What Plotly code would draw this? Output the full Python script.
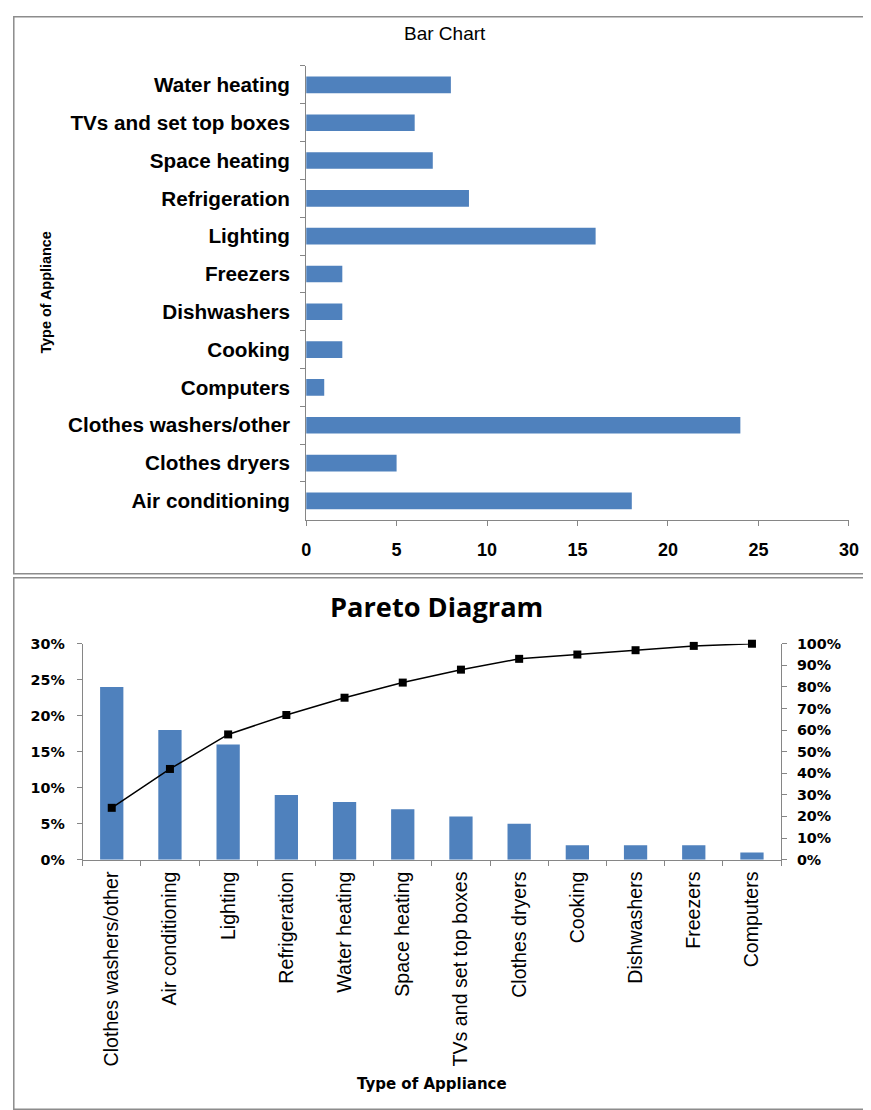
import plotly.graph_objects as go

# ---------------- data ----------------
bar_categories = ["Air conditioning", "Clothes dryers", "Clothes washers/other", "Computers",
                  "Cooking", "Dishwashers", "Freezers", "Lighting", "Refrigeration",
                  "Space heating", "TVs and set top boxes", "Water heating"]
bar_values = [18, 5, 24, 1, 2, 2, 2, 16, 9, 7, 6, 8]

pareto_categories = ["Clothes washers/other", "Air conditioning", "Lighting", "Refrigeration",
                     "Water heating", "Space heating", "TVs and set top boxes", "Clothes dryers",
                     "Cooking", "Dishwashers", "Freezers", "Computers"]
pareto_share = [0.24, 0.18, 0.16, 0.09, 0.08, 0.07, 0.06, 0.05, 0.02, 0.02, 0.02, 0.01]
pareto_cumulative = [0.24, 0.42, 0.58, 0.67, 0.75, 0.82, 0.88, 0.93, 0.95, 0.97, 0.99, 1.00]

W, H = 871, 1110
BLUE = "#4F81BD"
AX = "#868686"

# mapping from target picture pixels to figure pixels (measured placement of the page in the photo)
AXS, BXS = 0.985, 12.2
AYS, BYS = 0.986, 15.0


def fx(x):
    return (x - BXS) / AXS


def fy(y):
    return (y - BYS) / AYS


def px(x):
    return min(max(fx(x), 0.0), W) / W


def py(y):
    return 1 - min(max(fy(y), 0.0), H) / H


fig = go.Figure()

fig.add_trace(go.Bar(x=bar_values, y=bar_categories, orientation="h",
                     marker=dict(color=BLUE, line=dict(width=0)), width=0.44,
                     xaxis="x", yaxis="y", showlegend=False))
fig.add_trace(go.Bar(x=pareto_categories, y=pareto_share,
                     marker=dict(color=BLUE, line=dict(width=0)), width=0.4,
                     xaxis="x2", yaxis="y2", showlegend=False))
fig.add_trace(go.Scatter(x=pareto_categories, y=pareto_cumulative, mode="lines+markers",
                         line=dict(color="black", width=1.5),
                         marker=dict(symbol="square", size=8, color="black"),
                         cliponaxis=False,
                         xaxis="x2", yaxis="y3", showlegend=False))

fig.update_layout(
    width=W, height=H, autosize=False,
    margin=dict(l=0, r=0, t=0, b=0),
    paper_bgcolor="white", plot_bgcolor="white",
    xaxis=dict(domain=[px(306), px(850)], anchor="y", range=[0, 30], dtick=5,
               showgrid=False, zeroline=False, showline=True, linecolor=AX, linewidth=1,
               ticks="outside", ticklen=5, tickcolor=AX, ticklabelstandoff=9,
               tickfont=dict(family="Liberation Sans, Arial", size=18, color="black", weight="bold")),
    yaxis=dict(domain=[py(519), py(65)], anchor="x", type="category",
               range=[-0.5, 11.5],
               showgrid=False, zeroline=False, showline=True, linecolor=AX, linewidth=1,
               ticks="outside", ticklen=5, tickcolor=AX, tickson="boundaries",
               ticklabelstandoff=11,
               tickfont=dict(family="Liberation Sans, Arial", size=20.7, color="black", weight="bold")),
    xaxis2=dict(domain=[px(82), px(782)], anchor="y2", type="category",
                range=[-0.5, 11.5],
                showgrid=False, zeroline=False, showline=True, linecolor=AX, linewidth=1,
                ticks="outside", ticklen=5, tickcolor=AX, tickson="boundaries",
                tickangle=-90, ticklabelstandoff=3,
                tickfont=dict(family="Liberation Sans, Arial", size=19.6, color="black")),
    yaxis2=dict(domain=[py(859), py(643)], anchor="x2", range=[0, 0.3], dtick=0.05,
                tickformat=".0%",
                showgrid=False, zeroline=False, showline=True, linecolor=AX, linewidth=1,
                ticks="outside", ticklen=5, tickcolor=AX, ticklabelstandoff=9,
                tickfont=dict(family="DejaVu Sans, Verdana", size=14.3, color="black", weight="bold")),
    yaxis3=dict(domain=[py(859), py(643)], anchor="x2", overlaying="y2", side="right",
                range=[0, 1], dtick=0.1, tickformat=".0%",
                showgrid=False, zeroline=False, showline=True, linecolor=AX, linewidth=1,
                ticks="outside", ticklen=5, tickcolor=AX, ticklabelstandoff=7,
                tickfont=dict(family="DejaVu Sans, Verdana", size=14.3, color="black", weight="bold")),
    annotations=[
        dict(text="Bar Chart", x=px(445), y=py(33), xref="paper", yref="paper",
             showarrow=False, xanchor="center", yanchor="middle",
             font=dict(family="Liberation Sans Narrow, Liberation Sans", size=19, color="black")),
        dict(text="Type of Appliance", x=px(45), y=py(292), xref="paper", yref="paper",
             showarrow=False, xanchor="center", yanchor="middle", textangle=-90,
             font=dict(family="Liberation Sans Narrow, Liberation Sans", size=14.4, color="black",
                       weight="bold")),
        dict(text="Pareto Diagram", x=px(437), y=py(606), xref="paper", yref="paper",
             showarrow=False, xanchor="center", yanchor="middle",
             font=dict(family="Open Sans, Noto Sans", size=27.2, color="black", weight="bold")),
        dict(text="Type of Appliance", x=px(432), y=py(1083), xref="paper", yref="paper",
             showarrow=False, xanchor="center", yanchor="middle",
             font=dict(family="DejaVu Sans, Verdana", size=15, color="black", weight="bold")),
    ],
    shapes=[
        dict(type="rect", xref="paper", yref="paper",
             x0=0.8 / W, x1=870.2 / W, y0=py(573), y1=1 - 0.8 / H,
             line=dict(color="#8C8C8C", width=1.5), fillcolor="rgba(0,0,0,0)", layer="below"),
        dict(type="rect", xref="paper", yref="paper",
             x0=0.8 / W, x1=px(865), y0=0.8 / H, y1=py(577),
             line=dict(color="#8C8C8C", width=1.5), fillcolor="rgba(0,0,0,0)", layer="below"),
    ],
)

fig.write_html("out.html")
